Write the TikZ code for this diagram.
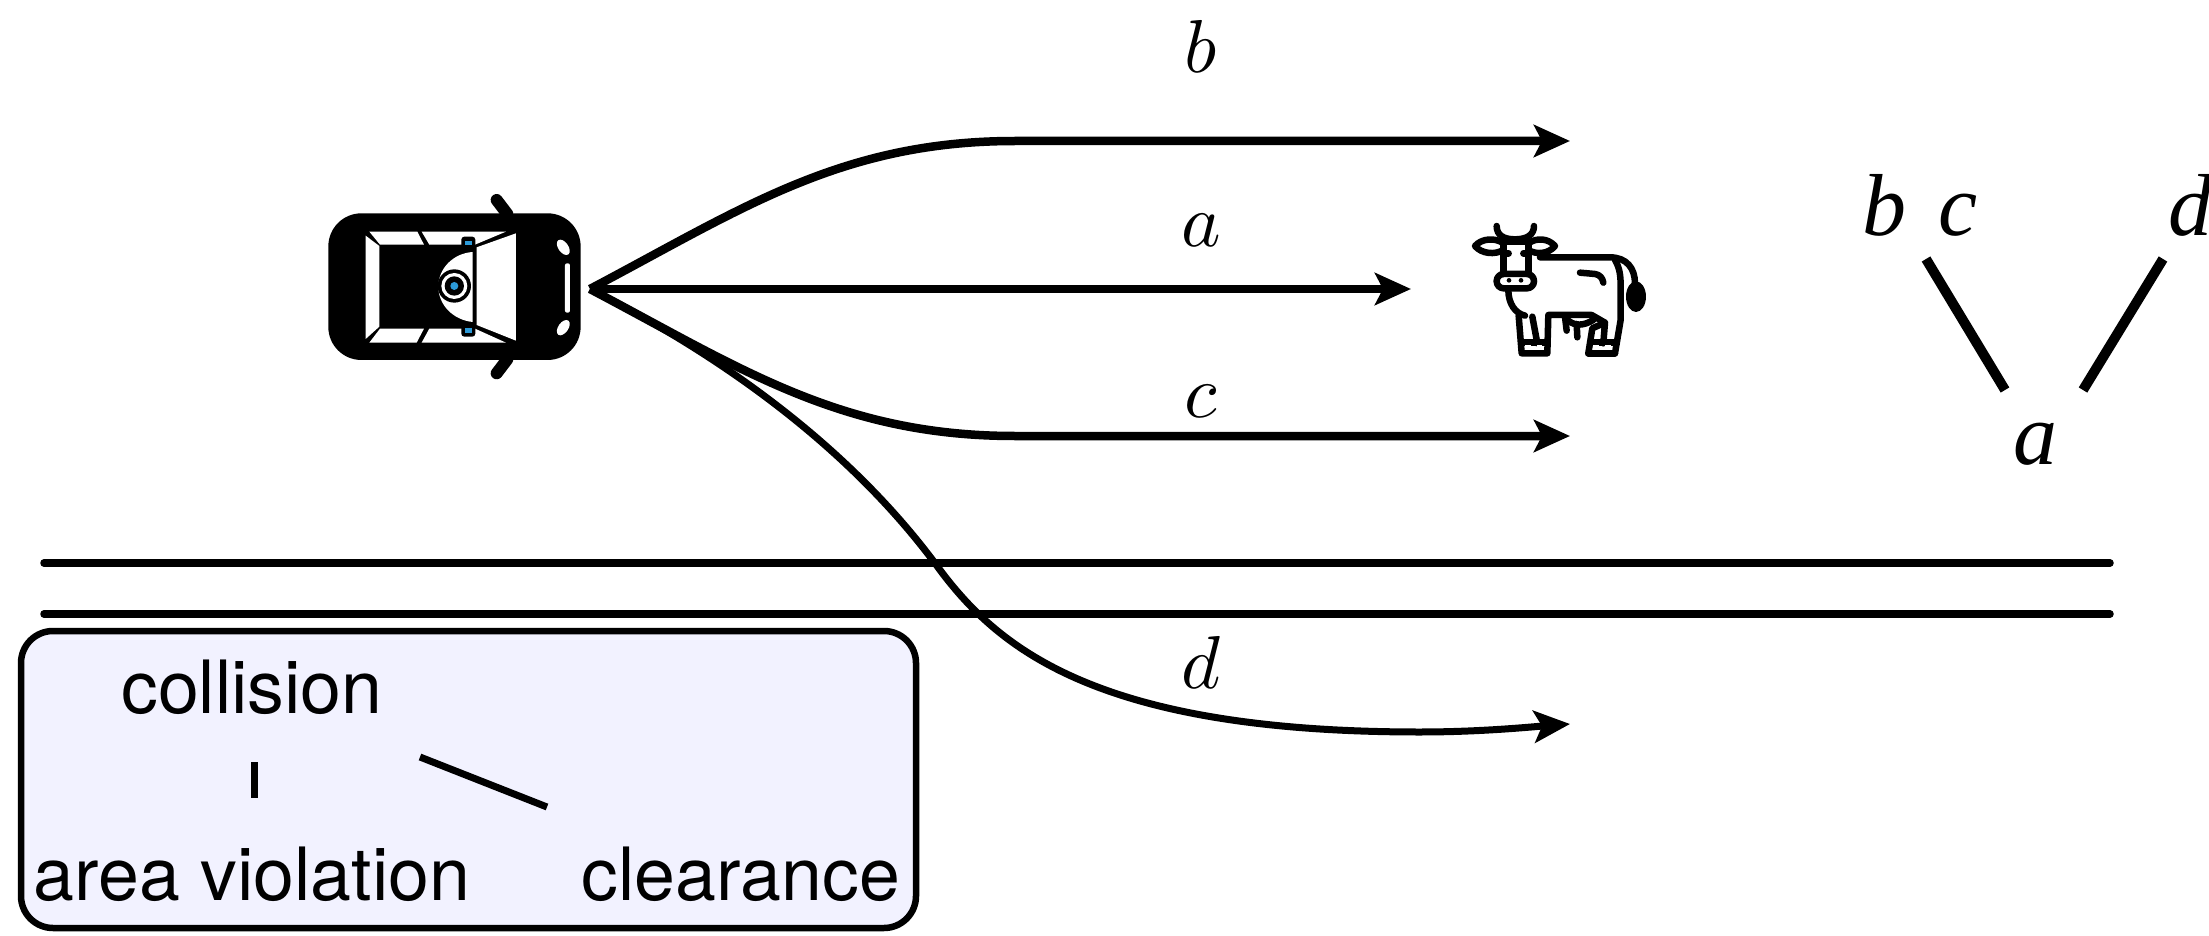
\documentclass[tikz,border=0pt]{standalone}
\usepackage{fontspec}
\setmainfont{TeX Gyre Heros}
\newfontfamily\treefont{Liberation Serif}
\usetikzlibrary{arrows.meta}
\definecolor{boxfill}{HTML}{F2F2FF}
\definecolor{camblue}{HTML}{2C9AD8}
\tikzset{
  traj/.style={line width=8.5pt,-{Stealth[length=36pt,width=32pt,inset=8pt]},line join=round},
  road/.style={line width=7.5pt,line cap=round},
  treeedge/.style={line width=10pt},
  insetedge/.style={line width=7pt},
  pathlabel/.style={anchor=base,scale=7.5,inner sep=0pt,outer sep=0pt},
  sanslabel/.style={anchor=base,font=\fontsize{73.5}{80}\selectfont,inner sep=0pt},
  treelabel/.style={anchor=base,font=\fontsize{88}{95}\selectfont\treefont\itshape,inner sep=0pt},
  win/.style={fill=white,draw=none},
  cowline/.style={line width=6.5pt,line cap=round,line join=round},
}
\begin{document}
\begin{tikzpicture}[x=1pt,y=-1pt]
\useasboundingbox (0,0) rectangle (2209,936);
\clip (0,0) rectangle (2209,936);
% connector anchors
\coordinate (start) at (590,289);
\coordinate (endb) at (1570,141);
\coordinate (enda) at (1411,289);
\coordinate (endc) at (1570,436);
\coordinate (endd) at (1570,724);
\coordinate (roadAl) at (44,563);
\coordinate (roadAr) at (2110,563);
\coordinate (roadBl) at (44,614);
\coordinate (roadBr) at (2110,614);
% car
\begin{scope}[shift={(300,170)},x=0.3333pt,y=-0.3333pt]
  \fill[rounded corners=33pt] (85,130) rectangle (842,570);
  \draw[line width=12pt,line cap=round] (590,90) -- (622,132);
  \draw[line width=12pt,line cap=round] (590,610) -- (622,568);
  \fill[win] (197,197) -- (238,228) -- (238,470) -- (197,507) -- cycle;
  \fill[win] (208,185) -- (352,185) -- (372,224) -- (240,224) -- cycle;
  \fill[win] (365,185) -- (618,185) -- (525,224) -- (388,224) -- cycle;
  \fill[win] (208,518) -- (350,518) -- (372,476) -- (240,476) -- cycle;
  \fill[win] (365,518) -- (618,518) -- (525,476) -- (388,476) -- cycle;
  \fill[win] (530,232) -- (648,190) -- (648,512) -- (530,465) -- cycle;
  \fill[win] (518,246) .. controls (460,250) and (415,295) .. (415,350) .. controls (415,405) and (460,450) .. (518,456) -- cycle;
  \fill (463,348) circle (50);
  \fill[win] (463,348) circle (39);
  \fill (463,348) circle (29);
  \fill[camblue] (463,348) circle (12);
  \fill[rounded corners=3pt] (484,200) rectangle (526,238);
  \fill[rounded corners=3pt] (484,462) rectangle (526,500);
  \fill[camblue] (495,213) rectangle (516,226);
  \fill[camblue] (495,474) rectangle (516,488);
  \fill[win,rotate around={-55:(790,232)}] (790,232) ellipse (26 and 15);
  \fill[win,rotate around={55:(790,473)}] (790,473) ellipse (26 and 15);
  \fill[win,rounded corners=2pt] (795,280) rectangle (810,428);
\end{scope}
% cow
\begin{scope}[shift={(1440,200)},x=0.3333pt,y=-0.3333pt]
  \fill (588,290) ellipse (30 and 46);
  \draw[cowline] (170,78) .. controls (170,105) and (190,118) .. (225,118) .. controls (260,118) and (282,105) .. (282,78);
  \draw[cowline] (190,130) .. controls (165,112) and (125,115) .. (105,138) .. controls (125,162) and (165,165) .. (190,150);
  \draw[cowline] (265,130) .. controls (290,112) and (325,115) .. (345,138) .. controls (325,162) and (290,165) .. (265,150);
  \draw[cowline] (190,125) -- (265,125);
  \draw[cowline] (190,125) -- (190,222);
  \draw[cowline] (265,125) -- (265,222);
  \draw[cowline] (190,160) -- (206,160);
  \draw[cowline] (250,160) -- (265,160);
  \draw[cowline,rounded corners=7pt] (170,222) rectangle (282,265);
  \fill (207,241) circle (7);
  \fill (243,241) circle (7);
  \draw[cowline] (300,172) -- (510,172) .. controls (560,172) and (585,205) .. (585,250);
  \draw[cowline] (525,180) .. controls (540,205) and (542,230) .. (542,260) -- (542,360) -- (525,460);
  \draw[cowline] (420,218) -- (465,222) .. controls (480,224) and (488,235) .. (490,248);
  \draw[cowline] (205,270) .. controls (205,310) and (225,340) .. (255,347);
  \draw[cowline] (236,347) -- (245,460) -- (322,460) -- (325,345) -- (455,345) -- (495,368);
  \draw[cowline] (277,350) -- (292,430);
  \draw[cowline] (445,460) -- (525,460);
  \draw[cowline] (445,460) -- (457,385) -- (495,368) -- (490,430);
  \draw[cowline] (375,350) -- (380,392);
  \draw[cowline] (410,372) -- (412,412);
  \draw[cowline] (385,362) .. controls (405,378) and (430,378) .. (460,360);
  \draw[cowline] (248,428) -- (320,428);
  \draw[cowline] (452,428) -- (524,428);
  \fill[white] (256,435) rectangle (272,447);
  \fill[white] (290,435) rectangle (306,447);
  \fill[white] (460,435) rectangle (476,447);
  \fill[white] (495,435) rectangle (513,447);
\end{scope}
% roads
\draw[road] (roadAl) -- (roadAr);
\draw[road] (roadBl) -- (roadBr);
% trajectories
\draw[traj] (start) .. controls (740,210) and (840,141) .. (1015,141) -- (endb);
\draw[traj,line width=7.5pt] (start) -- (enda);
\draw[traj] (start) .. controls (740,368) and (840,436) .. (1015,436) -- (endc);
\draw[traj,line width=7pt] (start) .. controls (740,365) and (860,460) .. (940,570) .. controls (1000,650) and (1100,732) .. (1420,732) .. controls (1480,732) and (1530,727) .. (endd);
% trajectory labels
\node[pathlabel] (lb) at (1201,73) {$b$};
\node[pathlabel] (la) at (1201,247) {$a$};
\node[pathlabel] (lc) at (1201,417) {$c$};
\node[pathlabel] (ld) at (1201,688) {$d$};
% inset
\node[draw,line width=6.5pt,fill=boxfill,rounded corners=32pt,minimum width=895pt,minimum height=297pt,inner sep=0pt] (inset) at (468.5,779.5) {};
\node[sanslabel] (coll) at (252,713) {collision};
\node[sanslabel] (area) at (252,900) {area violation};
\node[sanslabel] (clear) at (741,900) {clearance};
\coordinate (e1a) at (254,762);
\coordinate (e1b) at (254,798);
\coordinate (e2a) at (420,757);
\coordinate (e2b) at (547,807);
\draw[insetedge] (e1a) -- (e1b);
\draw[insetedge] (e2a) -- (e2b);
% tree
\node[treelabel] (tb) at (1884,236) {b};
\node[treelabel] (tc) at (1958,236) {c};
\node[treelabel,anchor=base west] (td) at (2168,236) {d};
\node[treelabel] (ta) at (2035,464) {a};
\coordinate (t1a) at (1926,259);
\coordinate (t1b) at (2005,390);
\coordinate (t2a) at (2163,259);
\coordinate (t2b) at (2083,390);
\draw[treeedge] (t1a) -- (t1b);
\draw[treeedge] (t2a) -- (t2b);
\end{tikzpicture}
\end{document}
